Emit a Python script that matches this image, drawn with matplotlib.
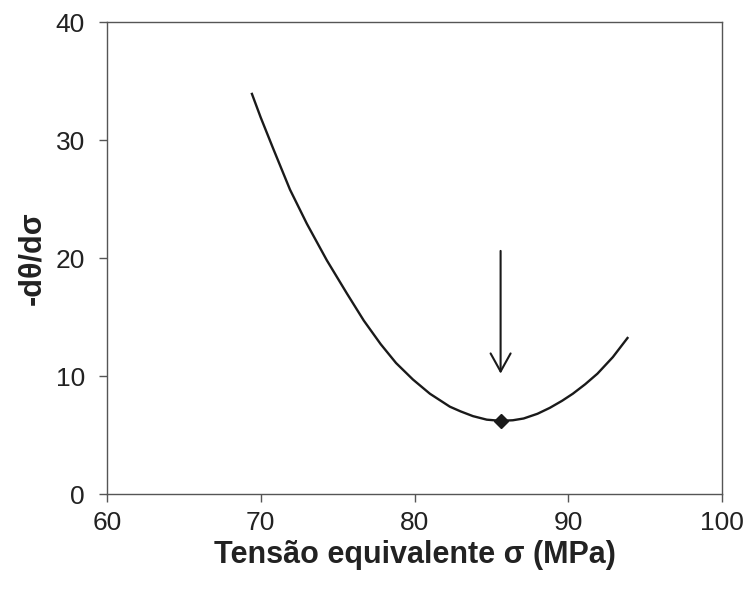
import matplotlib
matplotlib.use("Agg")
import matplotlib.pyplot as plt

# Data
sigma = [69.4, 70.0, 70.8, 71.9, 73.0, 74.3, 75.6, 76.7, 77.8, 78.8, 79.9,
         81.0, 82.3, 83.0, 83.8, 84.7, 85.6, 86.4, 87.1, 88.0, 88.8, 89.6,
         90.3, 91.1, 91.9, 92.9, 93.9]
dtheta = [34.0, 31.9, 29.3, 25.8, 22.9, 19.8, 17.0, 14.7, 12.7, 11.1, 9.7,
          8.5, 7.4, 7.0, 6.6, 6.3, 6.2, 6.25, 6.4, 6.8, 7.3, 7.9,
          8.5, 9.3, 10.2, 11.6, 13.3]
min_x = [85.6]
min_y = [6.2]
arrow_top = 20.6
arrow_tip = 10.2

xlim = (60, 100)
ylim = (0, 40)
xticks = [60, 70, 80, 90, 100]
yticks = [0, 10, 20, 30, 40]

plt.rcParams['font.family'] = ['Liberation Sans', 'DejaVu Sans']

fig = plt.figure(figsize=(7.47, 5.89), dpi=100)
ax = fig.add_axes([107/747, 1-494/589, (722-107)/747, (494-22)/589])

ax.plot(sigma, dtheta, color='#1a1a1a', lw=1.7, solid_joinstyle='round',
        solid_capstyle='butt')
ax.plot(min_x, min_y, marker='D', color='#1a1a1a', ms=7, ls='none')
ax.annotate('', xy=(min_x[0], arrow_tip), xytext=(min_x[0], arrow_top),
            arrowprops=dict(arrowstyle='->,head_length=0.65,head_width=0.36',
                            color='#1a1a1a', lw=1.5, mutation_scale=20,
                            shrinkA=0, shrinkB=0))

ax.set_xlim(*xlim)
ax.set_ylim(*ylim)
ax.set_xticks(xticks)
ax.set_yticks(yticks)
for s in ax.spines.values():
    s.set_color('#555555')
    s.set_linewidth(1.0)
ax.tick_params(direction='out', length=6, width=1.0, color='#555555',
               labelsize=19, labelcolor='#222222')
ax.tick_params(axis='y', pad=10)
ax.tick_params(axis='x', pad=6)

ax.set_xlabel('Tensão equivalente σ (MPa)', fontsize=22, fontweight='bold',
              color='#222222', labelpad=4)
ax.set_ylabel('-dθ/dσ', fontsize=22, fontweight='bold', color='#222222',
              labelpad=6)

fig.savefig('out.png', dpi=100)
